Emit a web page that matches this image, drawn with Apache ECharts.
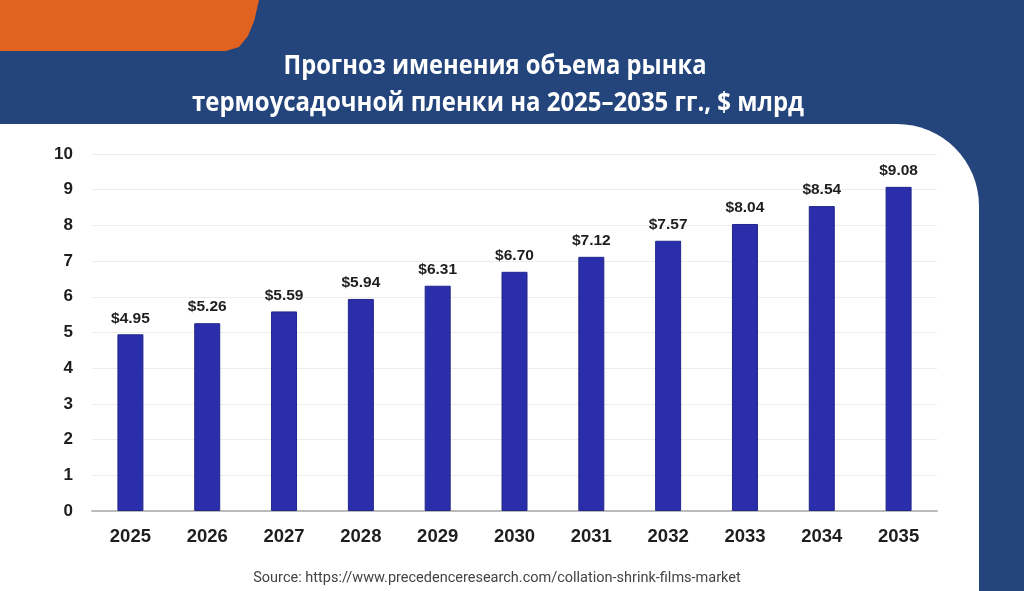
<!DOCTYPE html>
<html>
<head>
<meta charset="utf-8">
<script src="https://cdn.jsdelivr.net/npm/echarts@6/dist/echarts.min.js"></script>
<style>
  html, body { margin: 0; padding: 0; background: #23457c; }
  #chart { width: 1024px; height: 591px; }
</style>
</head>
<body>
<div id="chart"></div>
<script>
var years = ['2025', '2026', '2027', '2028', '2029', '2030', '2031', '2032', '2033', '2034', '2035'];
var marketSize = [4.95, 5.26, 5.59, 5.94, 6.31, 6.70, 7.12, 7.57, 8.04, 8.54, 9.08];
var titleLines = ['Прогноз именения объема рынка', 'термоусадочной пленки на 2025–2035 гг., $ млрд'];
var sourceText = 'Source: https://www.precedenceresearch.com/collation-shrink-films-market';

var chart = echarts.init(document.getElementById('chart'));

var titleFont = 'bold 27px "Open Sans", sans-serif';
var labelFont = '"Liberation Sans", Arial, sans-serif';

// the title face is condensed in the original; squeeze a normal bold face to the same width
var ctx = document.createElement('canvas').getContext('2d');
ctx.font = titleFont;
function squeeze(text, target) {
    return Math.min(1, target / ctx.measureText(text).width);
}

var option = {
    backgroundColor: '#23457c',
    animation: false,
    graphic: [
        {
            // orange tab, top left
            type: 'polygon',
            z: -10,
            shape: { points: [[0, 0], [259, 0], [254.5, 19.8], [248, 36], [239, 47], [226, 51], [0, 51]] },
            style: { fill: '#e2621f' }
        },
        {
            // white panel behind the chart
            type: 'rect',
            z: -10,
            shape: { x: 0, y: 124, width: 979, height: 480, r: [0, 82, 0, 0] },
            style: { fill: '#ffffff' }
        },
        {
            type: 'text',
            x: 495, y: 66,
            scaleX: squeeze(titleLines[0], 423),
            style: { text: titleLines[0], fill: '#ffffff', font: titleFont, align: 'center', verticalAlign: 'middle' }
        },
        {
            type: 'text',
            x: 498, y: 103,
            scaleX: squeeze(titleLines[1], 612),
            style: { text: titleLines[1], fill: '#ffffff', font: titleFont, align: 'center', verticalAlign: 'middle' }
        },
        {
            type: 'text',
            x: 497, y: 578,
            style: {
                text: sourceText, fill: '#444444',
                font: '14.5px Roboto, "Liberation Sans", sans-serif',
                align: 'center', verticalAlign: 'middle'
            }
        }
    ],
    grid: { left: 92, right: 87, top: 154, bottom: 80 },
    xAxis: {
        type: 'category',
        data: years,
        axisLine: { lineStyle: { color: '#bbbbbb', width: 2 } },
        axisTick: { show: false },
        axisLabel: { color: '#1e1e1e', fontSize: 18.5, fontWeight: 'bold', fontFamily: labelFont, margin: 16 }
    },
    yAxis: {
        type: 'value',
        min: 0, max: 10, interval: 1,
        axisLine: { show: false },
        axisTick: { show: false },
        splitLine: { lineStyle: { color: '#ececec', width: 1 } },
        axisLabel: { color: '#1e1e1e', fontSize: 17, fontWeight: 'bold', fontFamily: labelFont, margin: 19 }
    },
    series: [{
        type: 'bar',
        data: marketSize,
        barWidth: 26,
        itemStyle: { color: '#2a2eab', borderColor: '#22268a', borderWidth: 1 },
        label: {
            show: true,
            position: 'top',
            distance: 8,
            color: '#1e1e1e', fontSize: 15.5, fontWeight: 'bold', fontFamily: labelFont,
            formatter: function (p) { return '$' + p.value.toFixed(2); }
        }
    }]
};

chart.setOption(option);
</script>
</body>
</html>
